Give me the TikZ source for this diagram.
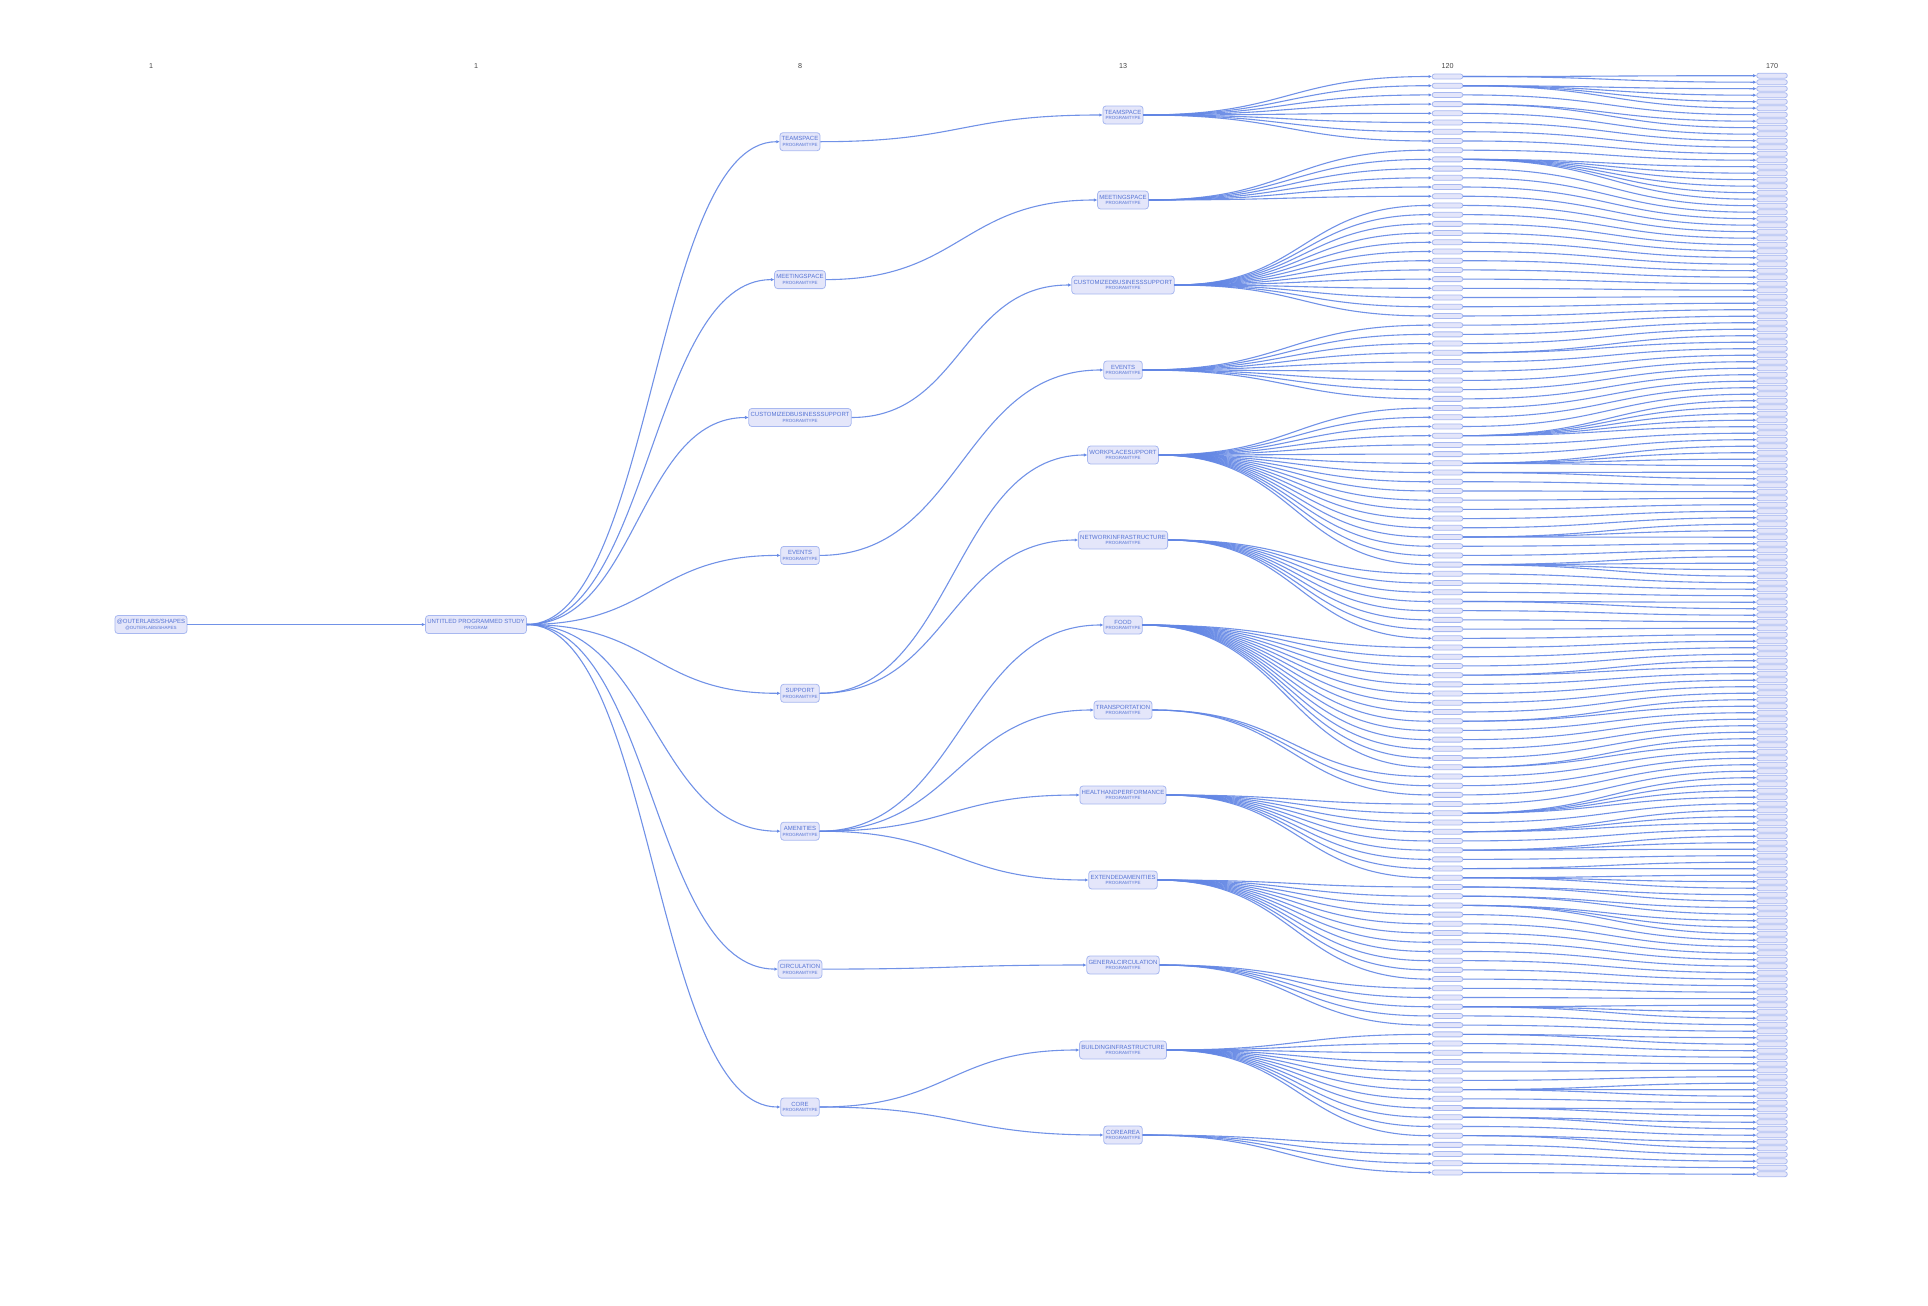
\documentclass[tikz,border=0pt]{standalone}
\usepackage{fontspec}
\setmainfont{Liberation Sans}
\definecolor{LinkBlue}{RGB}{98,134,228}
\definecolor{BoxFill}{RGB}{228,230,250}
\definecolor{BoxLine}{RGB}{168,184,240}
\definecolor{BoxText}{RGB}{86,116,212}
\definecolor{HeadGray}{RGB}{70,70,70}
\usepackage{tikz}
\usetikzlibrary{
    arrows.meta,
    calc,
}

\newcommand{\mainsz}{\fontsize{3}{2.9}\selectfont}
\newcommand{\subsz}{\fontsize{2.25}{2.4}\selectfont}
\newcommand{\linknodes}[2]{\draw[wire] let \p1=(#1.east), \p2=(#2.west) in
    (\p1) .. controls ({(\x1+\x2)/2},\y1) and ({(\x1+\x2)/2},\y2) .. (\p2);}
\newcount\kidno

\begin{document}
\begin{tikzpicture}[
    x=0.5pt, y=-0.5pt,
    box/.style={draw=BoxLine, fill=BoxFill, rounded corners=1.5pt, line width=0.4pt, text=BoxText, align=center, inner xsep=0.9pt, inner ysep=0.8pt, minimum height=9pt, font=\mainsz},
    leaf/.style={draw=BoxLine, fill=BoxFill, rounded corners=1.2pt, line width=0.4pt, minimum width=15.3pt, minimum height=2.5pt, inner sep=0pt},
    wire/.style={draw=LinkBlue, line width=0.55pt, draw opacity=0.9, -{Triangle[length=1.6pt, width=1.4pt]}},
    colhead/.style={text=HeadGray, font=\fontsize{3.6}{4}\selectfont}
]
    \useasboundingbox (0,0) rectangle (1928,1306);

    % column counts
    \foreach \x/\t [count=\h] in {151/1, 476/1, 800/8, 1123/13, 1447.5/120, 1772/170}
        \node[colhead] (h\h) at (\x, 65.7) {\t};

    % root and program
    \node[box] (a) at (151, 624.5) {@OUTERLABS/SHAPES\\{\subsz @OUTERLABS/SHAPES}};
    \node[box] (b) at (476, 624.5) {UNTITLED PROGRAMMED STUDY\\{\subsz PROGRAM}};

    % program types, level 1
    \foreach \nm [count=\m from 0] in {TEAMSPACE, MEETINGSPACE, CUSTOMIZEDBUSINESSSUPPORT, EVENTS, SUPPORT, AMENITIES, CIRCULATION, CORE}
        \node[box] (c\m) at (800, {141.7+137.9*\m}) {\nm\\{\subsz PROGRAMTYPE}};

    % program types, level 2
    \foreach \nm [count=\k from 0] in {TEAMSPACE, MEETINGSPACE, CUSTOMIZEDBUSINESSSUPPORT, EVENTS, WORKPLACESUPPORT, NETWORKINFRASTRUCTURE, FOOD, TRANSPORTATION, HEALTHANDPERFORMANCE, EXTENDEDAMENITIES, GENERALCIRCULATION, BUILDINGINFRASTRUCTURE, COREAREA}
        \node[box] (d\k) at (1123, {115+85*\k}) {\nm\\{\subsz PROGRAMTYPE}};

    % leaf columns
    \foreach \i in {0,...,119}
        \node[leaf] (e\i) at (1447.5, {76.5+9.21*\i}) {};
    \foreach \j in {0,...,169}
        \node[leaf] (f\j) at (1772, {75.7+6.5*\j}) {};

    % links
    \linknodes{a}{b}
    \foreach \m in {0,...,7} {\linknodes{b}{c\m}}
    \foreach \src/\dst in {c0/d0, c1/d1, c2/d2, c3/d3, c4/d4, c4/d5, c5/d6, c5/d7, c5/d8, c5/d9, c6/d10, c7/d11, c7/d12}
        {\linknodes{\src}{\dst}}
    \foreach \k/\lo/\hi in {0/0/7, 1/8/13, 2/14/26, 3/27/35, 4/36/53, 5/54/61, 6/62/75, 7/76/78, 8/79/87, 9/88/98, 10/99/103, 11/104/115, 12/116/119}
        {\foreach \i in {\lo,...,\hi} {\linknodes{d\k}{e\i}}}
    \global\kidno=0
    \foreach \n [count=\i from 0] in {
        2,4,1,2,1,1,1,1,1,6, 1,1,1,1,1,1,1,1,1,1, 1,1,1,1,1,1,1,1,1,1,
        2,1,1,1,1,1,1,1,1,5, 1,1,4,2,1,1,1,1,1,1, 3,1,1,4,1,1,1,2,1,1,
        1,1,1,1,1,2,1,1,1,1, 2,1,1,1,1,2,1,1,1,1, 4,1,3,1,3,1,2,3,2,2,
        3,1,1,1,1,1,1,1,1,1, 1,3,1,1,2,1,1,1,1,1, 3,1,2,2,1,2,1,1,1,1}
        {\foreach \r in {1,...,\n} {
            \edef\kidid{\the\kidno}
            \linknodes{e\i}{f\kidid}
            \global\advance\kidno by 1
        }}
\end{tikzpicture}
\end{document}
